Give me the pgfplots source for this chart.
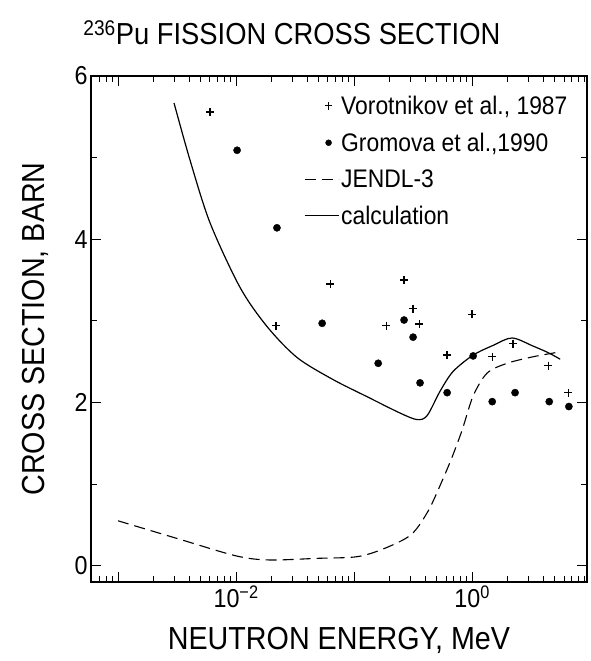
\documentclass[border=0pt]{standalone}
\usepackage{fontspec}
\setmainfont[FakeStretch=0.9]{Liberation Sans}
\usepackage{pgfplots}
\pgfplotsset{compat=1.18}
\usepackage{pgfplotstable}

\pgfplotstableread{
x y
0.0060 5.56
0.0218 2.94
0.0627 3.45
0.187 2.94
0.265 3.50
0.316 3.15
0.356 2.96
0.614 2.58
1.00 3.08
1.48 2.56
2.22 2.72
4.41 2.45
6.51 2.12
}\voro

\pgfplotstableread{
x y
0.0102 5.09
0.0222 4.14
0.0536 2.97
0.160 2.48
0.265 3.01
0.316 2.80
0.362 2.24
0.614 2.12
1.02 2.57
1.48 2.01
2.31 2.12
4.50 2.01
6.60 1.95
}\grom

\pgfplotstableread{
x y
0.001 0.55
0.00322 0.33
0.01 0.12
0.019 0.07
0.049 0.09
0.106 0.11
0.18 0.21
0.304 0.38
0.424 0.67
0.557 1.04
0.676 1.33
0.822 1.66
1.02 2.08
1.34 2.36
1.98 2.48
3.29 2.56
5.57 2.62
}\jendl

\pgfplotstableread{
x y
0.00298 5.67
0.00407 4.97
0.00602 4.20
0.0108 3.41
0.0183 2.93
0.0329 2.55
0.0664 2.28
0.129 2.07
0.245 1.87
0.342 1.79
0.416 1.84
0.536 2.14
0.69 2.38
1.02 2.58
1.51 2.70
2.18 2.79
3.29 2.69
4.41 2.61
5.57 2.53
}\calc

\begin{document}
\begin{tikzpicture}
\begin{axis}[
  scale only axis, width=496bp, height=506bp,
  xmode=log, xmin=5.9e-4, xmax=9.4, ymin=-0.2, ymax=6,
  xtick={1e-3,1e-2,1e-1,1},
  xticklabels={,10\textsuperscript{−2},,10\textsuperscript{0}},
  minor xtick={6e-4,7e-4,8e-4,9e-4,2e-3,3e-3,4e-3,5e-3,6e-3,7e-3,8e-3,9e-3,2e-2,3e-2,4e-2,5e-2,6e-2,7e-2,8e-2,9e-2,0.2,0.3,0.4,0.5,0.6,0.7,0.8,0.9,2,3,4,5,6,7,8,9},
  ytick={0,2,4,6}, yticklabels={0,2,4,6},
  minor ytick={1,3,5},
  tick align=inside,
  major tick length=10bp, minor tick length=6bp,
  axis line style={line width=1.2bp},
  every tick/.style={black, line width=0.9bp},
  ticklabel style={font=\fontsize{26}{28}\selectfont},
  xlabel={NEUTRON ENERGY, MeV},
  ylabel={CROSS SECTION, BARN},
  label style={font=\fontsize{32}{36}\selectfont},
  xlabel style={at={(axis description cs:0.5,-0.134)}, anchor=base},
  ylabel style={at={(axis description cs:-0.113,0.5)}, anchor=center},
  title={\textsuperscript{236}Pu FISSION CROSS SECTION},
  title style={at={(axis description cs:0.405,1.05)}, anchor=base, font=\fontsize{30.5}{34}\selectfont},
  legend style={draw=none, fill=none, at={(axis description cs:0.965,0.965)}, anchor=north east,
    font=\fontsize{25.5}{28}\selectfont, row sep=13bp, inner sep=0pt},
  legend cell align=left,
  legend image code/.code={\draw[#1] (-6bp,0bp) -- (28bp,0bp);},
]
\addplot[only marks, mark=+, mark size=4bp, line width=1.3bp,
  legend image code/.code={\draw[mark=+, mark size=3.8bp, line width=1.2bp] plot coordinates {(18bp,0bp)};}]
  table {\voro};
\addlegendentry{Vorotnikov et al., 1987}
\addplot[only marks, mark=*, mark size=3.6bp, fill=black,
  legend image code/.code={\draw[mark=*, mark size=3bp, fill=black] plot coordinates {(18bp,0bp)};}]
  table {\grom};
\addlegendentry{Gromova et al.,1990}
\addplot[black, line width=1.1bp, dash pattern=on 11bp off 6bp, smooth, tension=0.5] table {\jendl};
\addlegendentry{JENDL-3}
\addplot[black, line width=1.2bp, smooth, tension=0.5] table {\calc};
\addlegendentry{calculation}
\end{axis}
\pgfresetboundingbox
\path ([xshift=-91bp,yshift=-79bp]current axis.south west) rectangle ([xshift=3bp,yshift=76bp]current axis.north east);
\end{tikzpicture}
\end{document}
